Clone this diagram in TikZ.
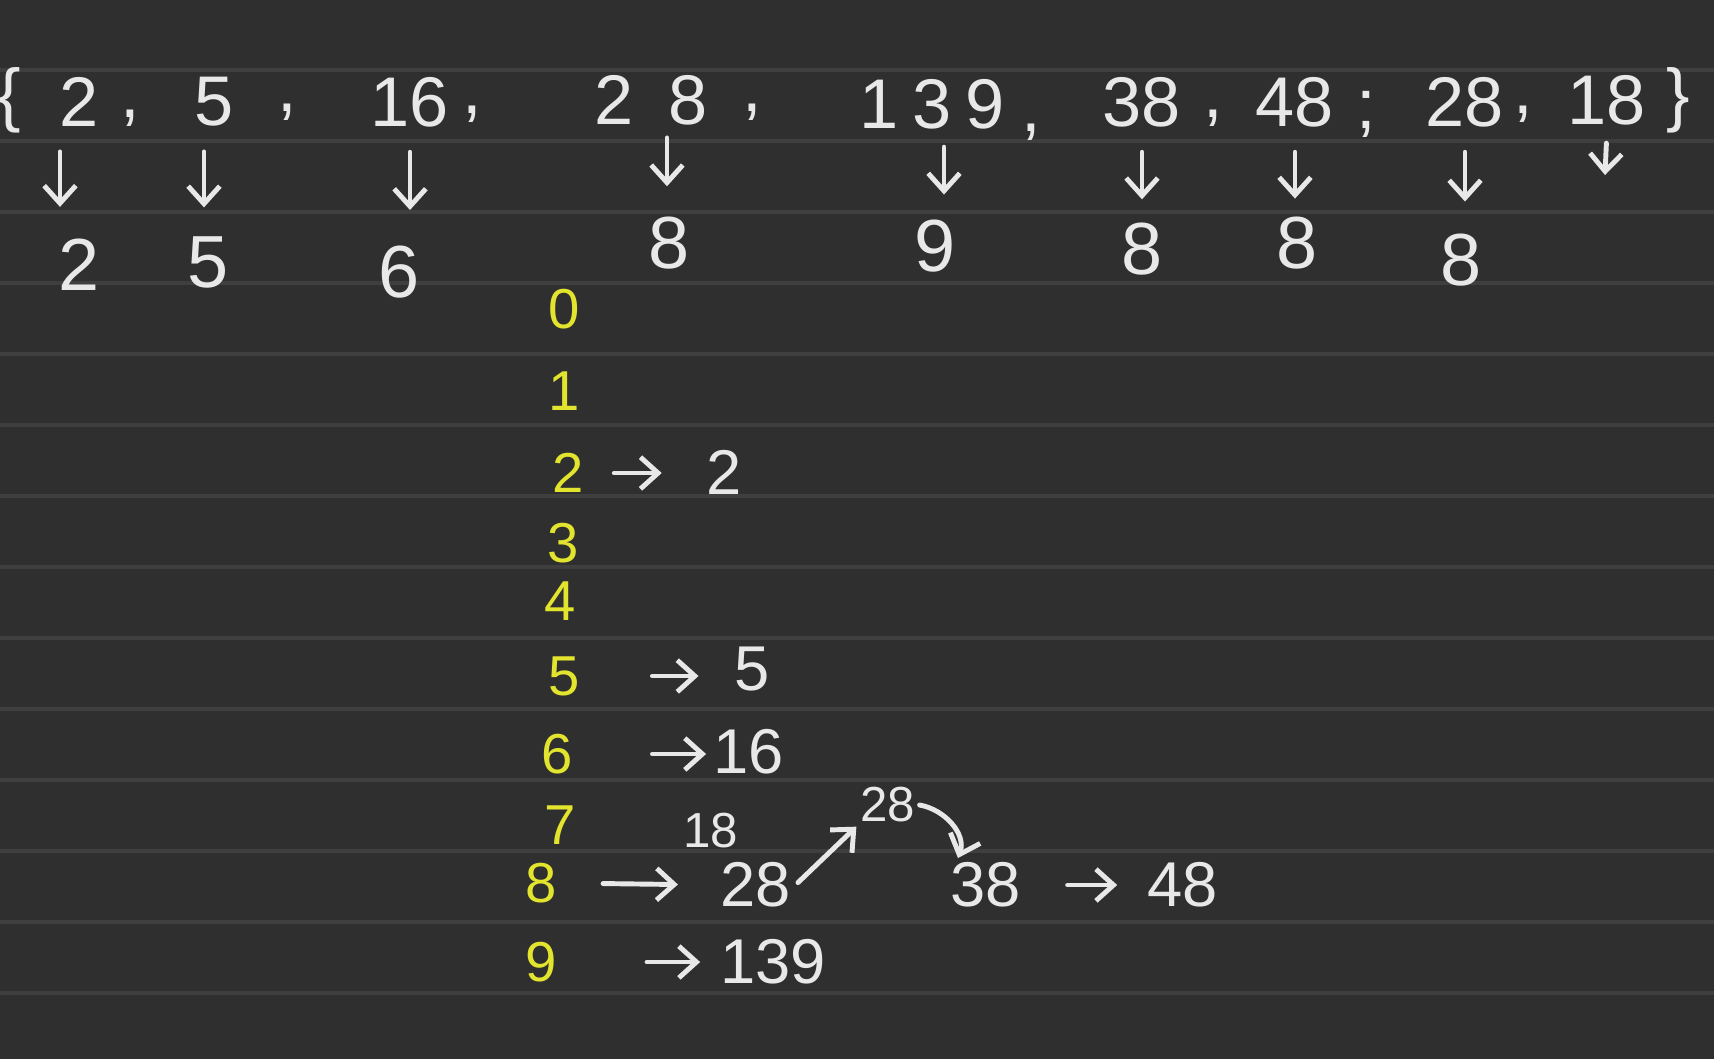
\documentclass[tikz,border=0pt]{standalone}
\usepackage{fontspec}
\setmainfont{Liberation Sans}
\usetikzlibrary{arrows.meta}

\definecolor{board}{HTML}{2F2F2F}
\definecolor{ruling}{HTML}{3F3F3F}
\definecolor{chalk}{HTML}{E8E8E8}
\definecolor{marker}{HTML}{E2E42E}

\tikzset{
  topnum/.style={text=chalk, font=\fontsize{20}{24}\selectfont, inner sep=1pt},
  bucketof/.style={text=chalk, font=\fontsize{21}{25}\selectfont, inner sep=1pt},
  idx/.style={text=marker, font=\fontsize{16}{19}\selectfont, inner sep=1pt},
  entry/.style={text=chalk, font=\fontsize{18}{22}\selectfont, inner sep=1pt},
  tiny/.style={text=chalk, font=\fontsize{14}{17}\selectfont, inner sep=1pt},
  pen/.style={draw=chalk, line width=1.4pt, line cap=round, -{Straight Barb[length=5pt,width=9pt]}},
  drop/.style={pen, shorten <=6pt, shorten >=10pt}
}

\begin{document}
\begin{tikzpicture}[x=0.01cm, y=-0.01cm]

% Board
\useasboundingbox (0,0) rectangle (1714,1059);
\fill[board] (0,0) rectangle (1714,1059);
\foreach \r in {0,...,13}
  \draw[ruling, line width=1.2pt] (0,70+71*\r) -- (1714,70+71*\r);

% Input list
\node[topnum] (lb) at (9,100) {\{};
\node[topnum] (n2) at (79,102) {2};
\node[topnum] at (130,118) {,};
\node[topnum] (n5) at (214,102) {5};
\node[topnum] at (287,112) {,};
\node[topnum] (n16) at (410,102) {16};
\node[topnum] at (472,114) {,};
\node[topnum] (n28) at (651,100) {2\hspace{0.5em}8};
\node[topnum] at (752,112) {,};
\node[topnum] (n139) at (932,104) {1\hspace{0.2em}3\hspace{0.2em}9};
\node[topnum] at (1031,132) {,};
\node[topnum] (n38) at (1142,102) {38};
\node[topnum] at (1213,118) {,};
\node[topnum] (n48) at (1295,102) {48};
\node[topnum] at (1366,114) {;};
\node[topnum] (m28) at (1465,102) {28};
\node[topnum] at (1523,114) {,};
\node[topnum] (n18) at (1607,100) {18};
\node[topnum] (rb) at (1678,100) {\}};

% Last digits
\node[bucketof] (d2) at (79,265) {2};
\node[bucketof] (d5) at (208,262) {5};
\node[bucketof] (d16) at (399,272) {6};
\node[bucketof] (d28) at (669,243) {8};
\node[bucketof] (d139) at (935,246) {9};
\node[bucketof] (d38) at (1142,249) {8};
\node[bucketof] (d48) at (1297,243) {8};
\node[bucketof] (e28) at (1461,260) {8};
\coordinate (d18) at (1605,175);

\draw[drop, shorten >=8pt] ([xshift=-0.19cm]n2.south) -- ([xshift=-0.19cm]n2.south |- d2.north);
\draw[drop, shorten >=7pt] ([xshift=-0.1cm]n5.south) -- ([xshift=-0.1cm]n5.south |- d5.north);
\draw[drop, shorten >=9pt] (n16.south) -- (n16.south |- d16.north);
\draw[drop, shorten <=2.5pt, shorten >=7.5pt] ([xshift=0.16cm]n28.south) -- ([xshift=0.16cm]n28.south |- d28.north);
\draw[drop, shorten <=4pt, shorten >=6pt] ([xshift=0.12cm]n139.south) -- ([xshift=0.12cm]n139.south |- d139.north);
\draw[drop, shorten >=5.5pt] (n38.south) -- (n38.south |- d38.north);
\draw[drop, shorten >=4pt] (n48.south) -- (n48.south |- d48.north);
\draw[drop, shorten >=8pt] (m28.south) -- (m28.south |- e28.north);
\draw[drop, shorten <=4pt, shorten >=0pt] (n18.south) -- (d18);

% Buckets
\node[idx] (b0) at (564,309) {0};
\node[idx] (b1) at (564,391) {1};
\node[idx] (b2) at (568,473) {2};
\node[idx] (b3) at (563,543) {3};
\node[idx] (b4) at (560,601) {4};
\node[idx] (b5) at (564,676) {5};
\node[idx] (b6) at (557,754) {6};
\node[idx] (b7) at (560,825) {7};
\node[idx] (b8) at (541,883) {8};
\node[idx] (b9) at (541,962) {9};

% Bucket contents
\node[entry] (v2) at (724,472) {2};
\node[entry] (v5) at (752,669) {5};
\node[entry] (v16) at (749,752) {16};
\node[entry] (v28) at (756,885) {28};
\node[entry] (v38) at (986,885) {38};
\node[entry] (v48) at (1183,885) {48};
\node[entry] (v139) at (773,962) {139};
\node[tiny] (u28) at (888,805) {28};
\node[tiny] (u18) at (711,831) {18};

\draw[pen, shorten <=7.5pt, shorten >=11.5pt] (b2.east) -- (b2.east -| v2.west);
\draw[pen, shorten <=19.5pt, shorten >=9pt] (b5.east) -- (b5.east -| v5.west);
\draw[pen, shorten <=21.5pt, shorten >=1pt] (b6.east) -- (b6.east -| v16.west);
\draw[pen, shorten <=12pt, shorten >=11pt] (b8.east) -- (v28.west);
\draw[pen, shorten <=1pt] (v28.east) -- (u28.south west);
\draw[pen] (u28.east) to[out=-10,in=70] (958,858);
\draw[pen, shorten <=12pt, shorten >=7.5pt] (v38.east) -- (v48.west);
\draw[pen, shorten <=24.5pt, shorten >=4.5pt] (b9.east) -- (v139.west);

\end{tikzpicture}
\end{document}
